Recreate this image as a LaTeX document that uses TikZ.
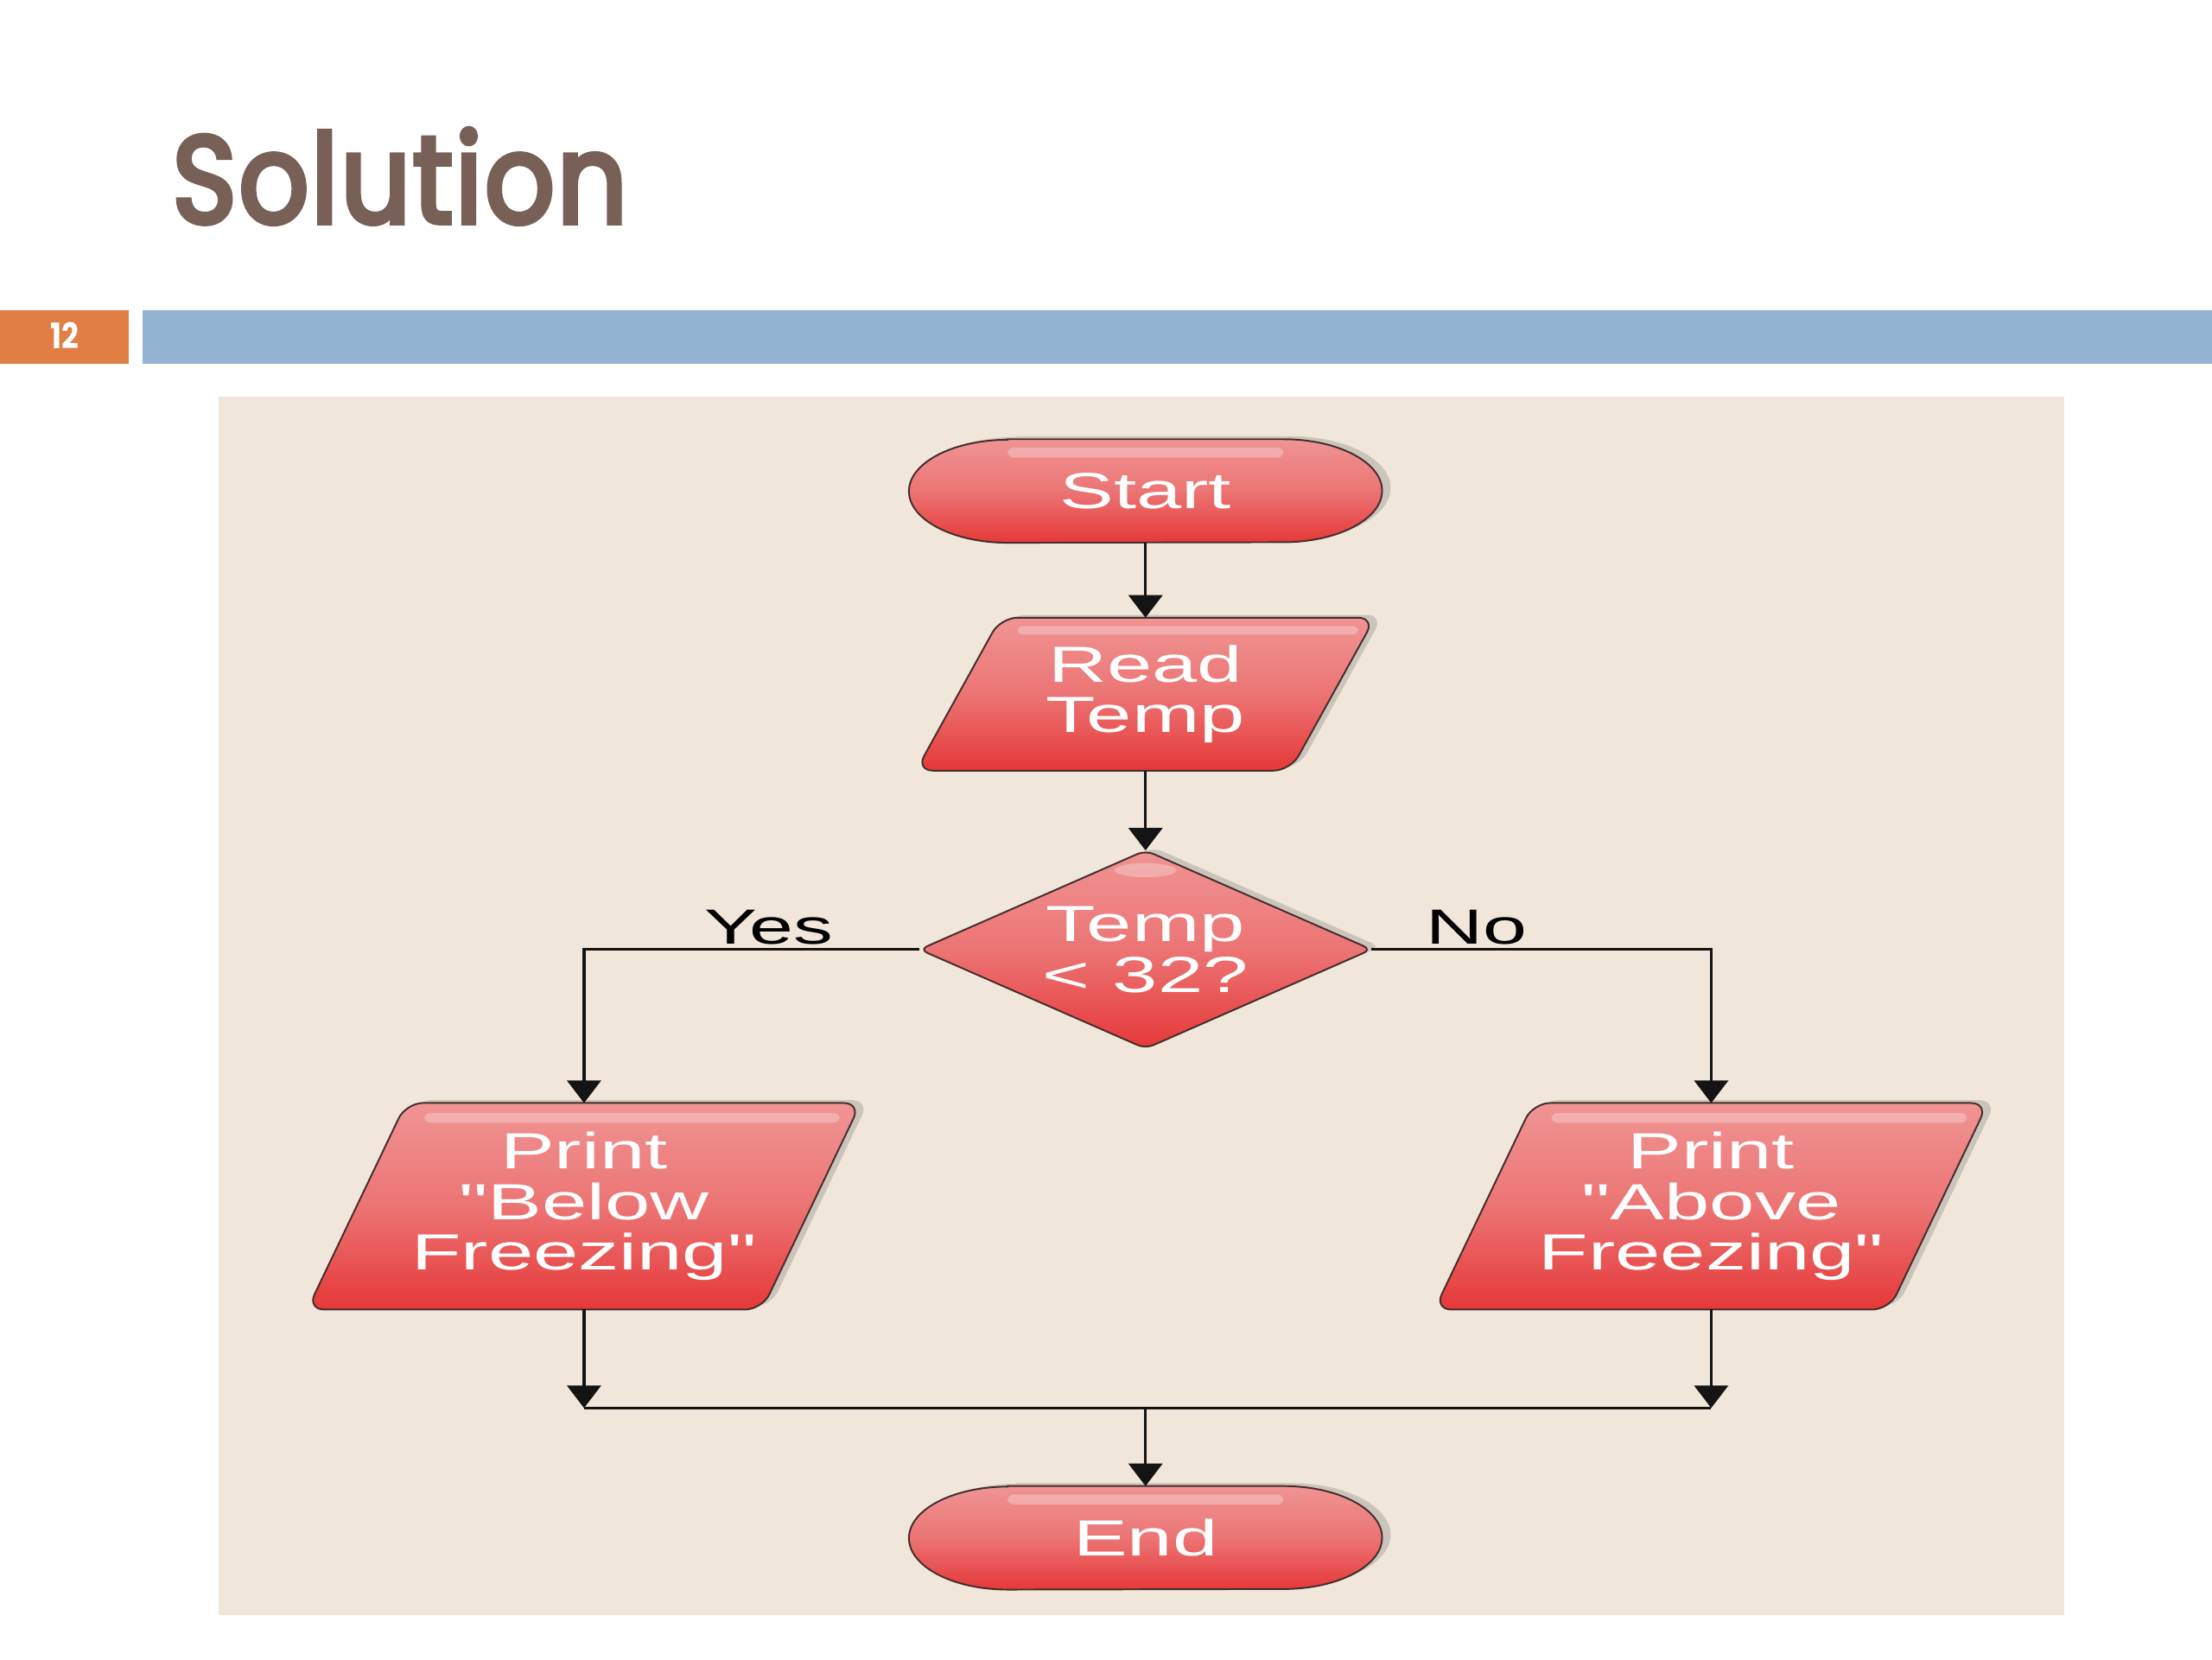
\documentclass[tikz,border=0pt]{standalone}
\usepackage{fontspec}
\setmainfont{Liberation Sans}
\newfontfamily\boxfont[FakeStretch=1.6]{Liberation Sans}
\newfontfamily\titlefont[FakeStretch=0.88, FakeBold=4, LetterSpace=2]{Poppins}
\newfontfamily\numfont[FakeStretch=0.85]{Poppins}
\usetikzlibrary{shapes.geometric,arrows.meta,calc,shadows}
\pgfdeclarelayer{bg}
\pgfdeclarelayer{shp}
\pgfsetlayers{bg,shp,main}
\definecolor{titlecol}{RGB}{120,96,86}
\definecolor{numorange}{RGB}{224,126,68}
\definecolor{barblue}{RGB}{148,180,212}
\definecolor{panel}{RGB}{240,230,218}
\definecolor{redtop}{RGB}{240,148,148}
\definecolor{redmid}{RGB}{236,116,116}
\definecolor{redbot}{RGB}{230,56,56}
\definecolor{edgecol}{RGB}{70,45,45}
\definecolor{linecol}{RGB}{20,20,20}
\begin{document}
\begin{tikzpicture}[x=1pt,y=1pt,
  txt/.style={font=\boxfont\fontsize{36}{36}\selectfont, text=white, align=center, inner sep=0pt},
  termnode/.style={txt, rectangle, minimum width=335pt, minimum height=73pt},
  readnode/.style={txt, rectangle, minimum width=265pt, minimum height=108pt},
  printnode/.style={txt, rectangle, minimum width=322pt, minimum height=146pt},
  decnode/.style={txt, diamond, aspect=2.3, minimum width=320pt, minimum height=140pt},
  lbl/.style={font=\boxfont\fontsize{35}{35}\selectfont, text=black, inner sep=0pt, anchor=base},
  conn/.style={draw=linecol, line width=2pt},
  arr/.style={conn, -{Triangle[width=24pt,length=16pt]}},
  redfill/.style={top color=redtop, bottom color=redbot, middle color=redmid, draw=edgecol, line width=1.2pt},
  sh/.style={drop shadow={shadow xshift=6pt, shadow yshift=2pt, opacity=0.22, fill=black!70}},
  termshape/.style={insert path={($(#1.north west)+(70,0)$) -- ($(#1.north east)+(-70,0)$) arc[start angle=90,end angle=-90,x radius=70pt,y radius=36.5pt] -- ($(#1.south west)+(70,0)$) arc[start angle=270,end angle=90,x radius=70pt,y radius=36.5pt] -- cycle}},
  parashape/.style 2 args={insert path={[rounded corners=12pt] ($(#1.south west)+(-#2,0)$) -- ($(#1.north west)+(#2,0)$) -- ($(#1.north east)+(#2,0)$) -- ($(#1.south east)+(-#2,0)$) -- cycle}},
  decshape/.style={insert path={[rounded corners=6pt] (#1.north) -- (#1.east) -- (#1.south) -- (#1.west) -- cycle}},
  hilite/.style={fill=white, opacity=0.28},
]
\useasboundingbox (0,0) rectangle (1568,-1176);

% nodes
\node[termnode] (start) at (812,-348) {Start};
\node[readnode] (read) at (812,-492) {Read\\Temp};
\node[decnode] (dec) at (812,-673) {Temp\\< 32?};
\node[printnode] (pb) at (414,-855) {Print\\"Below\\Freezing"};
\node[printnode] (pa) at (1213,-855) {Print\\"Above\\Freezing"};
\node[termnode] (end) at (812,-1090) {End};

\node[lbl] (yes) at (545,-669) {Yes};
\node[lbl] (no) at (1047,-669) {No};

\node[anchor=base west, inner sep=0pt, text=titlecol, font=\titlefont\fontsize{88}{88}\selectfont] (title) at (122,-158) {Solution};
\node[inner sep=0pt, text=white, font=\numfont\bfseries\fontsize{25}{25}\selectfont] (num) at (46,-238) {12};

% background
\begin{pgfonlayer}{bg}
\fill[white] (0,0) rectangle (1568,-1176);
\fill[numorange] (0,-220) rectangle (91,-258);
\fill[barblue] (101,-220) rectangle (1568,-258);
\fill[panel] (155,-281) rectangle (1463,-1145);
\end{pgfonlayer}

% shapes
\begin{pgfonlayer}{shp}
\path[redfill, sh, termshape=start];
\path[redfill, sh, termshape=end];
\path[redfill, sh, parashape={read}{30}];
\path[redfill, sh, parashape={pb}{35}];
\path[redfill, sh, parashape={pa}{35}];
\path[redfill, sh, decshape=dec];
\fill[hilite, rounded corners=4pt] ($(start.north west)+(70,-6)$) rectangle ($(start.north east)+(-70,-13)$);
\fill[hilite, rounded corners=4pt] ($(end.north west)+(70,-6)$) rectangle ($(end.north east)+(-70,-13)$);
\fill[hilite, rounded corners=4pt] ($(read.north west)+(42,-6)$) rectangle ($(read.north east)+(18,-12)$);
\fill[hilite, rounded corners=4pt] ($(pb.north west)+(48,-7)$) rectangle ($(pb.north east)+(20,-14)$);
\fill[hilite, rounded corners=4pt] ($(pa.north west)+(48,-7)$) rectangle ($(pa.north east)+(20,-14)$);
\fill[hilite] ($(dec.north)+(0,-14)$) ellipse [x radius=22pt, y radius=5pt];
\end{pgfonlayer}

% connectors
\coordinate (jl) at (pb.south |- 0,-998);
\coordinate (jr) at (pa.south |- 0,-998);
\coordinate (jm) at (start.south |- 0,-998);
\draw[arr] (start.south) -- (read.north);
\draw[arr] (read.south) -- (dec.north);
\draw[arr] (dec.west) -| (pb.north);
\draw[arr] (dec.east) -| (pa.north);
\draw[arr] (pb.south) -- (jl);
\draw[arr] (pa.south) -- (jr);
\draw[conn] (jl) -- (jr);
\draw[arr] (jm) -- (end.north);
\end{tikzpicture}
\end{document}
